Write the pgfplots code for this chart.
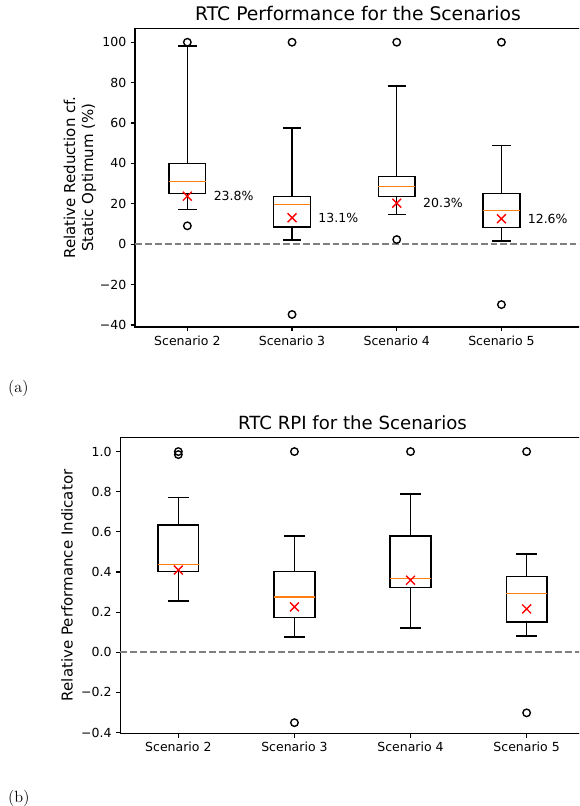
\documentclass[border=0pt]{standalone}
\usepackage{fontspec}
\setsansfont{DejaVu Sans}
\renewcommand{\familydefault}{\sfdefault}
\usepackage{pgfplots}
\pgfplotsset{compat=1.18}
\usepgfplotslibrary{statistics}
\definecolor{mplorange}{RGB}{255,127,14}
\pgfplotsset{
  mpl/.style={
    scale only axis,
    axis line style={black, line width=0.9pt},
    tick style={black, line width=0.9pt},
    major tick length=3.5pt,
    tick align=outside,
    xtick pos=bottom, ytick pos=left,
    tick label style={font=\sffamily\fontsize{10}{12}\selectfont},
    label style={font=\sffamily\fontsize{12}{14.4}\selectfont},
    title style={anchor=base, at={(0.5,1)}, inner sep=0pt},
    /pgf/number format/assume math mode=true,
    xtick={1,2,3,4},
    xticklabels={Scenario 2,Scenario 3,Scenario 4,Scenario 5},
    clip=false,
    boxplot/draw direction=y,
    boxplot/every box/.style={draw=black, line width=1.2pt},
    boxplot/every whisker/.style={draw=black, line width=1.2pt},
    boxplot/every median/.style={draw=mplorange, line width=1.1pt},
  },
  bx/.style={black, line width=1.2pt, mark=o, mark size=3pt, mark options={solid, black, line width=1.1pt}},
  meanx/.style={only marks, mark=x, mark size=5pt, mark options={red, line width=1.1pt}},
  zero/.style={gray, line width=1.5pt, dash pattern=on 5.5pt off 2.4pt},
}
\begin{document}
\begin{tikzpicture}
\useasboundingbox (0,0) rectangle (463.2pt,-644.8pt);
\clip (0,0) rectangle (463.2pt,-644.8pt);

% ---------- (a) ----------
\begin{axis}[mpl,
  at={(108pt,-261.6pt)}, anchor=south west,
  width=356.8pt, height=238.96pt,
  xmin=0.5, xmax=4.76, ymin=-41, ymax=106.9,
  ytick={-40,-20,0,20,40,60,80,100},
  yticklabels={−40,−20,0,20,40,60,80,100},
  title={RTC Performance for the Scenarios},
  title style={font=\sffamily\fontsize{15}{18}\selectfont},
  ylabel={Relative Reduction cf.\\Static Optimum (\%)},
  ylabel style={align=center, at={(axis description cs:-0.1235,0.5)}, anchor=center},
]
\addplot[zero] coordinates {(0.5,0) (4.76,0)};
\addplot[bx, boxplot prepared={draw position=1, lower whisker=17.1, lower quartile=25.0, median=31.0, upper quartile=39.9, upper whisker=98.2, box extend=0.35, whisker extend=0.175}]
  table[row sep=\\, y index=0] {data\\ 100\\ 9.1\\};
\addplot[bx, boxplot prepared={draw position=2, lower whisker=2.0, lower quartile=8.6, median=19.8, upper quartile=23.6, upper whisker=57.6, box extend=0.35, whisker extend=0.175}]
  table[row sep=\\, y index=0] {data\\ 100\\ -34.8\\};
\addplot[bx, boxplot prepared={draw position=3, lower whisker=14.7, lower quartile=23.7, median=28.5, upper quartile=33.5, upper whisker=78.4, box extend=0.35, whisker extend=0.175}]
  table[row sep=\\, y index=0] {data\\ 100\\ 2.3\\};
\addplot[bx, boxplot prepared={draw position=4, lower whisker=1.5, lower quartile=8.2, median=16.8, upper quartile=25.0, upper whisker=48.8, box extend=0.35, whisker extend=0.175}]
  table[row sep=\\, y index=0] {data\\ 100\\ -29.9\\};
\addplot[meanx] coordinates {(1,23.8) (2,13.1) (3,20.3) (4,12.6)};
\node[anchor=west, inner sep=0pt, font=\sffamily\fontsize{10}{12}\selectfont] at (axis cs:1.25,23.8) {23.8\%};
\node[anchor=west, inner sep=0pt, font=\sffamily\fontsize{10}{12}\selectfont] at (axis cs:2.25,13.1) {13.1\%};
\node[anchor=west, inner sep=0pt, font=\sffamily\fontsize{10}{12}\selectfont] at (axis cs:3.25,20.3) {20.3\%};
\node[anchor=west, inner sep=0pt, font=\sffamily\fontsize{10}{12}\selectfont] at (axis cs:4.25,12.6) {12.6\%};
\end{axis}

% ---------- (b) ----------
\begin{axis}[mpl,
  at={(96.24pt,-586.8pt)}, anchor=south west,
  width=371.5pt, height=237.1pt,
  xmin=0.5, xmax=4.5, ymin=-0.405, ymax=1.072,
  ytick={-0.4,-0.2,0,0.2,0.4,0.6,0.8,1.0},
  yticklabels={−0.4,−0.2,0.0,0.2,0.4,0.6,0.8,1.0},
  title={RTC RPI for the Scenarios},
  title style={font=\sffamily\fontsize{14.5}{17}\selectfont},
  ylabel={Relative Performance Indicator},
  ylabel style={at={(axis description cs:-0.1148,0.5)}, anchor=center},
]
\addplot[zero] coordinates {(0.5,0) (4.5,0)};
\addplot[bx, boxplot prepared={draw position=1, lower whisker=0.256, lower quartile=0.402, median=0.438, upper quartile=0.633, upper whisker=0.772, box extend=0.35, whisker extend=0.175}]
  table[row sep=\\, y index=0] {data\\ 1.0\\ 0.985\\};
\addplot[bx, boxplot prepared={draw position=2, lower whisker=0.076, lower quartile=0.174, median=0.276, upper quartile=0.402, upper whisker=0.579, box extend=0.35, whisker extend=0.175}]
  table[row sep=\\, y index=0] {data\\ 1.0\\ -0.351\\};
\addplot[bx, boxplot prepared={draw position=3, lower whisker=0.121, lower quartile=0.322, median=0.369, upper quartile=0.579, upper whisker=0.789, box extend=0.35, whisker extend=0.175}]
  table[row sep=\\, y index=0] {data\\ 1.0\\};
\addplot[bx, boxplot prepared={draw position=4, lower whisker=0.080, lower quartile=0.151, median=0.292, upper quartile=0.377, upper whisker=0.490, box extend=0.35, whisker extend=0.175}]
  table[row sep=\\, y index=0] {data\\ 1.0\\ -0.302\\};
\addplot[meanx] coordinates {(1,0.41) (2,0.226) (3,0.359) (4,0.216)};
\end{axis}

\node[anchor=base west, inner sep=0pt, font=\rmfamily\fontsize{13}{15}\selectfont] at (6.4pt,-313.6pt) {(a)};
\node[anchor=base west, inner sep=0pt, font=\rmfamily\fontsize{13}{15}\selectfont] at (6.4pt,-642pt) {(b)};
\end{tikzpicture}
\end{document}
